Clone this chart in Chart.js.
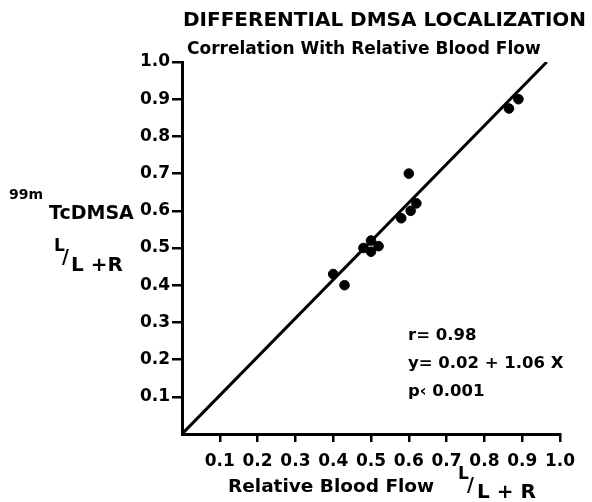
<!DOCTYPE html>
<html>
<head>
<meta charset="utf-8">
<script src="https://cdn.jsdelivr.net/npm/chart.js@4/dist/chart.umd.min.js"></script>
<style>
    body { margin: 0; background: #fff; }
</style>
</head>
<body>
<canvas id="dmsa-chart" width="592" height="502"></canvas>
<script>
// measured points: relative blood flow (x) vs 99mTc DMSA uptake (y)
var flowValues = [0.40, 0.43, 0.48, 0.50, 0.50, 0.52, 0.58, 0.60, 0.605, 0.62, 0.865, 0.89];
var dmsaValues = [0.43, 0.40, 0.50, 0.52, 0.49, 0.505, 0.58, 0.70, 0.60, 0.62, 0.875, 0.90];

// regression line as drawn on the figure
var fitX = [0, 0.965];
var fitY = [0, 1.0];

var statLines = ['r= 0.98', 'y= 0.02 + 1.06 X', 'p\u2039 0.001'];

var FONT = '"DejaVu Sans", sans-serif';

function toPoints(xs, ys) {
    return xs.map((x, i) => ({ x: x, y: ys[i] }));
}

/**
 * Draw titles, axis labels and the stats block
 */
var textPlugin = {
    id: 'figureText',
    afterDraw: function (chart) {
        let ctx = chart.ctx;
        ctx.save();
        ctx.fillStyle = '#000';
        ctx.textBaseline = 'alphabetic';
        ctx.textAlign = 'left';

        // titles
        ctx.font = 'bold 20px ' + FONT;
        ctx.fillText('DIFFERENTIAL DMSA LOCALIZATION', 183, 26);
        ctx.font = 'bold 17px ' + FONT;
        ctx.fillText('Correlation With Relative Blood Flow', 187, 54);

        // y axis label
        ctx.font = 'bold 14px ' + FONT;
        ctx.fillText('99m', 9, 199);
        ctx.font = 'bold 19px ' + FONT;
        ctx.fillText('TcDMSA', 49, 219);
        ctx.font = 'bold 17px ' + FONT;
        ctx.fillText('L', 54, 251);
        ctx.font = 'bold 19px ' + FONT;
        ctx.fillText('/', 62, 263);
        ctx.font = 'bold 20px ' + FONT;
        ctx.fillText('L +R', 71, 271);

        // x axis label
        ctx.font = 'bold 18.5px ' + FONT;
        ctx.fillText('Relative Blood Flow', 228, 492);
        ctx.font = 'bold 17px ' + FONT;
        ctx.fillText('L', 458, 479);
        ctx.font = 'bold 19px ' + FONT;
        ctx.fillText('/', 467, 491);
        ctx.font = 'bold 20px ' + FONT;
        ctx.fillText('L + R', 477, 498);

        // statistics
        ctx.font = 'bold 16.5px ' + FONT;
        let statY = [340, 368, 396];
        statLines.forEach((s, i) => ctx.fillText(s, 408, statY[i]));

        ctx.restore();
    }
};

var axisCommon = {
    type: 'linear',
    min: 0,
    max: 1,
    border: { display: true, color: '#000', width: 3 },
    grid: {
        drawOnChartArea: false,
        drawTicks: true,
        lineWidth: 2.5,
        color: ctx => (ctx.tick && ctx.tick.value === 0) ? 'rgba(0,0,0,0)' : '#000'
    },
    ticks: {
        color: '#000',
        stepSize: 0.1,
        autoSkip: false,
        maxRotation: 0,
        callback: v => (Math.abs(v) < 1e-9 ? '' : v.toFixed(1))
    }
};

var ctx = document.getElementById('dmsa-chart');
var chart = new Chart(ctx, {
    type: 'scatter',
    data: {
        datasets: [{
            data: toPoints(flowValues, dmsaValues),
            backgroundColor: '#000',
            borderColor: '#000',
            pointRadius: 4.8,
            pointHoverRadius: 4.8,
            order: 1
        }, {
            type: 'line',
            data: toPoints(fitX, fitY),
            borderColor: '#000',
            borderWidth: 3,
            pointRadius: 0,
            fill: false,
            order: 2
        }]
    },
    options: {
        responsive: false,
        animation: false,
        events: [],
        layout: { padding: { top: 62, right: 32, left: 0, bottom: 0 } },
        plugins: {
            legend: { display: false },
            tooltip: { enabled: false }
        },
        scales: {
            x: Object.assign({}, axisCommon, {
                position: 'bottom',
                grid: Object.assign({}, axisCommon.grid, { tickLength: 8 }),
                ticks: Object.assign({}, axisCommon.ticks, {
                    padding: 9,
                    font: { family: FONT, size: 17, weight: 'bold' }
                }),
                afterFit: function (scale) { scale.height = 68; }
            }),
            y: Object.assign({}, axisCommon, {
                position: 'left',
                grid: Object.assign({}, axisCommon.grid, { tickLength: 10 }),
                ticks: Object.assign({}, axisCommon.ticks, {
                    padding: 2,
                    font: { family: FONT, size: 17, weight: 'bold' }
                }),
                afterFit: function (scale) { scale.width = 182; }
            })
        }
    },
    plugins: [textPlugin]
});
</script>
</body>
</html>
